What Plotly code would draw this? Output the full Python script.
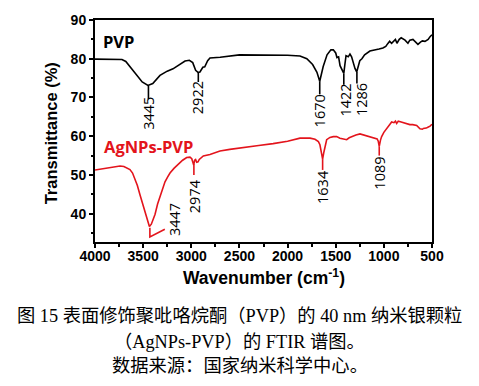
import plotly.graph_objects as go

# ---------------- data ----------------
pvp_wn = [4000, 3800, 3720, 3680, 3620, 3564, 3510, 3450, 3400, 3325, 3250, 3190, 3120, 3065, 3020,
          2985, 2955, 2930, 2910, 2880, 2860, 2830, 2806, 2700, 2500, 2200, 2000, 1871, 1800, 1740,
          1695, 1666, 1630, 1590, 1550, 1525, 1500, 1487, 1470, 1455, 1430, 1416, 1405, 1393, 1370,
          1352, 1335, 1321, 1300, 1282, 1270, 1250, 1228, 1200, 1145, 1100, 1050, 1010, 980, 960,
          940, 920, 900, 880, 864, 840, 820, 801, 780, 750, 730, 698, 670, 646, 620, 600, 573, 540,
          520, 500]
pvp_t = [79.9, 79.9, 79.8, 79.3, 77.5, 75.7, 74.0, 73.1, 73.6, 75.7, 76.8, 77.4, 78.5, 79.4, 79.6,
         79.0, 77.0, 76.5, 76.6, 77.8, 77.9, 79.5, 80.2, 80.4, 81.0, 81.0, 80.9, 80.7, 80.0, 78.5,
         76.5, 74.2, 78.0, 81.0, 82.3, 82.3, 81.5, 80.3, 80.5, 78.2, 77.0, 76.2, 78.5, 80.8, 80.5,
         81.2, 80.5, 79.0, 77.5, 76.6, 78.0, 79.5, 80.0, 81.0, 82.0, 82.2, 82.5, 82.8, 83.2, 83.9,
         84.5, 84.0, 84.4, 85.0, 84.0, 85.0, 85.4, 85.2, 84.8, 84.0, 84.8, 85.0, 84.3, 83.7, 84.3,
         84.6, 84.5, 85.0, 85.7, 86.2]

ag_wn = [4000, 3900, 3800, 3740, 3700, 3660, 3637, 3610, 3585, 3560, 3533, 3505, 3481, 3455, 3435,
         3415, 3395, 3377, 3350, 3325, 3300, 3273, 3245, 3221, 3180, 3135, 3090, 3048, 3014, 2995,
         2985, 2975, 2965, 2955, 2944, 2930, 2917, 2875, 2806, 2702, 2600, 2494, 2300, 2150, 2000,
         1871, 1767, 1715, 1680, 1664, 1650, 1636, 1622, 1608, 1594, 1560, 1525, 1490, 1456, 1420,
         1386, 1360, 1334, 1290, 1248, 1210, 1179, 1130, 1092, 1070, 1058, 1048, 1035, 1023, 1000,
         971, 945, 919, 895, 880, 867, 850, 820, 790, 763, 730, 700, 659, 625, 600, 590, 560, 538,
         520, 500]
ag_t = [51.3, 51.7, 52.0, 52.3, 52.2, 51.8, 51.4, 50.5, 49.1, 47.3, 44.9, 42.6, 40.75, 38.3, 36.7,
        37.3, 38.5, 39.8, 42.5, 44.2, 46.4, 48.25, 49.5, 50.5, 51.7, 52.8, 53.8, 54.5, 54.6, 54.2,
        53.0, 52.6, 53.8, 54.0, 53.3, 53.4, 54.0, 54.9, 55.3, 56.2, 56.6, 57.0, 57.6, 58.1, 58.7,
        59.5, 59.5, 59.2, 58.6, 57.8, 56.0, 54.1, 56.0, 58.0, 59.1, 59.7, 59.9, 59.9, 59.5, 59.3,
        59.1, 59.6, 59.9, 60.3, 60.6, 60.3, 60.1, 59.8, 59.5, 59.3, 58.7, 57.4, 59.0, 59.9, 61.0,
        62.0, 63.0, 63.7, 63.5, 63.9, 63.3, 63.9, 63.7, 63.5, 63.2, 63.0, 63.0, 62.8, 61.9, 61.8,
        62.0, 62.1, 62.4, 62.6, 63.1]

# peak labels: text, line x, line y start, line y end, label y centre
pvp_peaks = ["3445", "2922", "1670", "1422", "1286"]
pvp_peak_x = [3445, 2927, 1666, 1416, 1280]
pvp_text_x = [3445, 2927, 1666, 1400, 1225]
pvp_line_y0 = [73.1, 76.5, 74.2, 76.2, 76.6]
pvp_line_y1 = [69.6, 74.0, 70.8, 73.3, 73.6]
pvp_text_y = [65.9, 69.9, 66.6, 69.3, 69.4]

ag_peaks = ["2974", "1634", "1089"]
ag_peak_x = [2973, 1636, 1048]
ag_line_y0 = [52.8, 54.1, 57.4]
ag_line_y1 = [50.0, 51.3, 55.0]
ag_text_y = [44.5, 46.8, 50.4]

ag_main_peak = "3447"
ag_main_path_x = [3430, 3430, 3275]
ag_main_path_y = [36.4, 34.0, 36.0]
ag_main_text = (3180, 38.6)

x_ticks = [4000, 3500, 3000, 2500, 2000, 1500, 1000, 500]
y_ticks = [40, 50, 60, 70, 80, 90]

BLACK = "#000000"
RED = "#e3141c"

fig = go.Figure()
fig.add_trace(go.Scatter(x=pvp_wn, y=pvp_t, mode="lines", line=dict(color=BLACK, width=1.6),
                         showlegend=False, hoverinfo="skip"))
fig.add_trace(go.Scatter(x=ag_wn, y=ag_t, mode="lines", line=dict(color=RED, width=1.6),
                         showlegend=False, hoverinfo="skip"))

lab_font = dict(family="Open Sans, Liberation Sans, sans-serif", size=14.5, color=BLACK)

for txt, lx, tx, y0, y1, ty in zip(pvp_peaks, pvp_peak_x, pvp_text_x, pvp_line_y0, pvp_line_y1, pvp_text_y):
    fig.add_shape(type="line", x0=lx, x1=lx, y0=y0, y1=y1, xref="x", yref="y",
                  line=dict(color=BLACK, width=1.6))
    fig.add_annotation(x=tx, y=ty, text=txt, textangle=-90, showarrow=False,
                       xanchor="center", yanchor="middle", font=lab_font)

for txt, lx, y0, y1, ty in zip(ag_peaks, ag_peak_x, ag_line_y0, ag_line_y1, ag_text_y):
    fig.add_shape(type="line", x0=lx, x1=lx, y0=y0, y1=y1, xref="x", yref="y",
                  line=dict(color=RED, width=1.6))
    fig.add_annotation(x=lx, y=ty, text=txt, textangle=-90, showarrow=False,
                       xanchor="center", yanchor="middle", font=lab_font)

fig.add_trace(go.Scatter(x=ag_main_path_x, y=ag_main_path_y, mode="lines",
                         line=dict(color=RED, width=1.6), showlegend=False, hoverinfo="skip"))
fig.add_annotation(x=ag_main_text[0], y=ag_main_text[1], text=ag_main_peak, textangle=-90,
                   showarrow=False, xanchor="center", yanchor="middle", font=lab_font)

# series names
fig.add_annotation(x=3935, y=84.5, text="<b>PVP</b>", showarrow=False, xanchor="left", yanchor="middle",
                   font=dict(family="Open Sans, sans-serif", size=16.5, color=BLACK))
fig.add_annotation(x=3925, y=57.4, text="<b>AgNPs-PVP</b>", showarrow=False, xanchor="left",
                   yanchor="middle", font=dict(family="Open Sans, sans-serif", size=16.5, color=RED))

# axis titles
title_font = dict(family="Liberation Sans, Arial, sans-serif", size=16.5, color=BLACK)
fig.add_annotation(xref="paper", yref="paper", x=-0.128, y=0.489, text="<b>Transmittance (%)</b>",
                   textangle=-90, showarrow=False, xanchor="center", yanchor="middle", font=title_font)
fig.add_annotation(xref="paper", yref="paper", x=0.5, y=-0.157, text="<b>Wavenumber (cm<sup>-1</sup>)</b>",
                   showarrow=False, xanchor="center", yanchor="middle",
                   font=dict(family="Liberation Sans, Arial, sans-serif", size=17.5, color=BLACK))

# caption
cap_font = dict(family="Liberation Serif, Noto Sans CJK SC, serif", size=18.3, color=BLACK)
captions = ["图 15 表面修饰聚吡咯烷酮（PVP）的 40 nm 纳米银颗粒",
            "（AgNPs-PVP）的 FTIR 谱图。",
            "数据来源：国家纳米科学中心。"]
cap_y = [-0.332, -0.450, -0.559]
for c, cy in zip(captions, cap_y):
    fig.add_annotation(xref="paper", yref="paper", x=0.43, y=cy, text=c, showarrow=False,
                       xanchor="center", yanchor="middle", font=cap_font)

tick_font = dict(family="Liberation Sans, Arial, sans-serif", size=14, color=BLACK, weight="bold")
fig.update_xaxes(range=[4000, 500], tickmode="array", tickvals=x_ticks, ticktext=[str(v) for v in x_ticks],
                 ticks="outside", ticklen=4, tickwidth=1.5, tickcolor=BLACK, ticklabelstandoff=-4,
                 minor=dict(dtick=250, tick0=0, ticks="outside", ticklen=3, tickwidth=1.5, tickcolor=BLACK),
                 showline=True, linewidth=2, linecolor=BLACK, mirror=True, showgrid=False, zeroline=False,
                 tickfont=tick_font)
fig.update_yaxes(range=[32.7, 90], tickmode="array", tickvals=y_ticks, ticktext=[str(v) for v in y_ticks],
                 ticks="outside", ticklen=4, tickwidth=1.5, tickcolor=BLACK,
                 minor=dict(dtick=5, tick0=0, ticks="outside", ticklen=2, tickwidth=1.5, tickcolor=BLACK),
                 showline=True, linewidth=2, linecolor=BLACK, mirror=True, showgrid=False, zeroline=False,
                 tickfont=tick_font)

fig.update_layout(width=479, height=386, margin=dict(l=95, r=47, t=13, b=144),
                  paper_bgcolor="white", plot_bgcolor="white", showlegend=False)

fig.write_html("out.html", config={"displayModeBar": False},
               post_script="document.body.style.margin='0px';")
